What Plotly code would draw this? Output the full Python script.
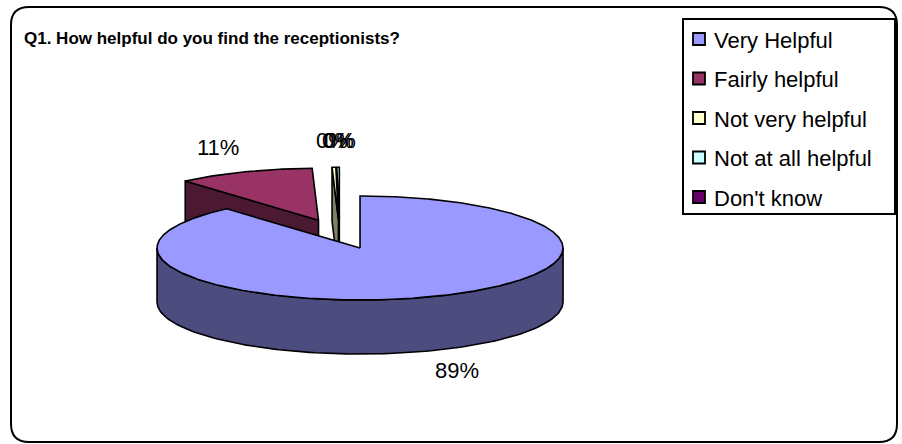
import numpy as np
import plotly.graph_objects as go

# Survey answers, Q1
categories = ["Very Helpful", "Fairly helpful", "Not very helpful",
              "Not at all helpful", "Don't know"]
shares = [88.6, 10.9, 0.3, 0.2, 0.0]
top_colors = ["#9999FF", "#993366", "#FFFFCC", "#CCFFFF", "#660066"]
title_text = "Q1. How helpful do you find the receptionists?"

# Pseudo-3D pie layout in page pixels
W, H = 902, 444
CX, CY = 339.7, 234.1      # pie origin before slices are pulled apart
RX, RY = 203.0, 52.0       # top ellipse radii
DEPTH = 54.0               # pie thickness
EXPLODE = 58.0             # distance each slice is pulled out
SQ = RY / RX
LABEL_KX, LABEL_KY = 1.36, 1.45
FONT = "Liberation Sans, Arial, sans-serif"
EDGE = dict(color="black", width=1.6)


def shade(hex_color, f=0.5):
    h = hex_color.lstrip("#")
    r, g, b = (int(h[i:i + 2], 16) for i in (0, 2, 4))
    return "#{:02X}{:02X}{:02X}".format(int(r * f), int(g * f), int(b * f))


def rim(cx, cy, ang):
    a = np.radians(ang)
    return cx + RX * np.sin(a), cy - RY * np.cos(a)


def poly(fig, xs, ys, color):
    xs = list(xs) + [xs[0]]
    ys = list(ys) + [ys[0]]
    fig.add_trace(go.Scatter(x=xs, y=ys, mode="lines", fill="toself",
                             fillcolor=color, line=EDGE, hoverinfo="skip",
                             showlegend=False))


total = float(sum(shares))
ends = np.cumsum(shares) / total * 360.0
starts = np.concatenate([[0.0], ends[:-1]])

slices = []
for i, name in enumerate(categories):
    s, e = starts[i], ends[i]
    mid = (s + e) / 2.0
    m = np.radians(mid)
    cx = CX + EXPLODE * np.sin(m)
    cy = CY - EXPLODE * SQ * np.cos(m)
    slices.append(dict(i=i, s=s, e=e, mid=mid, cx=cx, cy=cy))

fig = go.Figure()

# back slices first
for sl in sorted(slices, key=lambda d: (d["cy"], d["mid"])):
    i, s, e, cx, cy = sl["i"], sl["s"], sl["e"], sl["cx"], sl["cy"]
    if shares[i] <= 0:
        continue
    top = top_colors[i]
    side = shade(top)

    # flat radial faces that turn toward the viewer
    for ang, normal in ((s, s - 90.0), (e, e + 90.0)):
        if np.cos(np.radians(normal)) < -1e-6:
            rx_, ry_ = rim(cx, cy, ang)
            poly(fig, [cx, rx_, rx_, cx], [cy, ry_, ry_ + DEPTH, cy + DEPTH], side)

    # curved outer wall on the front half
    a0, a1 = max(s, 90.0), min(e, 270.0)
    if a1 > a0:
        arc = np.linspace(a0, a1, 120)
        ax, ay = rim(cx, cy, arc)
        poly(fig, np.concatenate([ax, ax[::-1]]),
             np.concatenate([ay, ay[::-1] + DEPTH]), side)

    # top face
    arc = np.linspace(s, e, max(int((e - s) * 2), 4))
    ax, ay = rim(cx, cy, arc)
    poly(fig, np.concatenate([[cx], ax]), np.concatenate([[cy], ay]), top)

# percentage labels
for sl in slices:
    i, mid, cx, cy = sl["i"], sl["mid"], sl["cx"], sl["cy"]
    m = np.radians(mid)
    lx = cx + RX * LABEL_KX * np.sin(m)
    ly = cy - RY * LABEL_KY * np.cos(m)
    if np.cos(m) < 0:
        ly += DEPTH - 2
    else:
        ly -= 3
    pct = round(shares[i] / total * 100)
    fig.add_annotation(x=lx, y=ly, text=f"{pct}%", showarrow=False,
                       xanchor="center", yanchor="middle",
                       font=dict(family=FONT, size=22, color="black"))

# chart frame with rounded corners
L, T, R, B, r = 11, 7, 897, 442, 18
frame = (f"M {L + r},{T} L {R - r},{T} Q {R},{T} {R},{T + r} L {R},{B - r} "
         f"Q {R},{B} {R - r},{B} L {L + r},{B} Q {L},{B} {L},{B - r} "
         f"L {L},{T + r} Q {L},{T} {L + r},{T} Z")
shapes = [dict(type="path", path=frame, xref="x", yref="y",
               line=dict(color="black", width=2), fillcolor="rgba(0,0,0,0)")]

# legend box
LG_L, LG_T, LG_R, LG_B = 683, 19, 895, 214
shapes.append(dict(type="rect", xref="x", yref="y", x0=LG_L, y0=LG_T,
                   x1=LG_R, y1=LG_B, line=dict(color="black", width=2),
                   fillcolor="white"))
for k, name in enumerate(categories):
    yc = 39 + k * 39.5
    shapes.append(dict(type="rect", xref="x", yref="y", x0=693, x1=705,
                       y0=yc - 6, y1=yc + 6, fillcolor=top_colors[k],
                       line=dict(color="black", width=1.8)))
    fig.add_annotation(x=712, y=yc + 1, text=name, showarrow=False,
                       xanchor="left", yanchor="middle",
                       font=dict(family=FONT, size=22, color="black"))

fig.add_annotation(x=22, y=38, text=f"<b>{title_text}</b>", showarrow=False,
                   xanchor="left", yanchor="middle",
                   font=dict(family=FONT, size=17, color="black"))

fig.update_layout(
    width=W, height=H, autosize=False,
    margin=dict(l=0, r=0, t=0, b=0),
    paper_bgcolor="white", plot_bgcolor="white",
    shapes=shapes, showlegend=False,
    xaxis=dict(range=[0, W], visible=False, fixedrange=True),
    yaxis=dict(range=[H, 0], visible=False, fixedrange=True),
)

fig.write_html("out.html")
